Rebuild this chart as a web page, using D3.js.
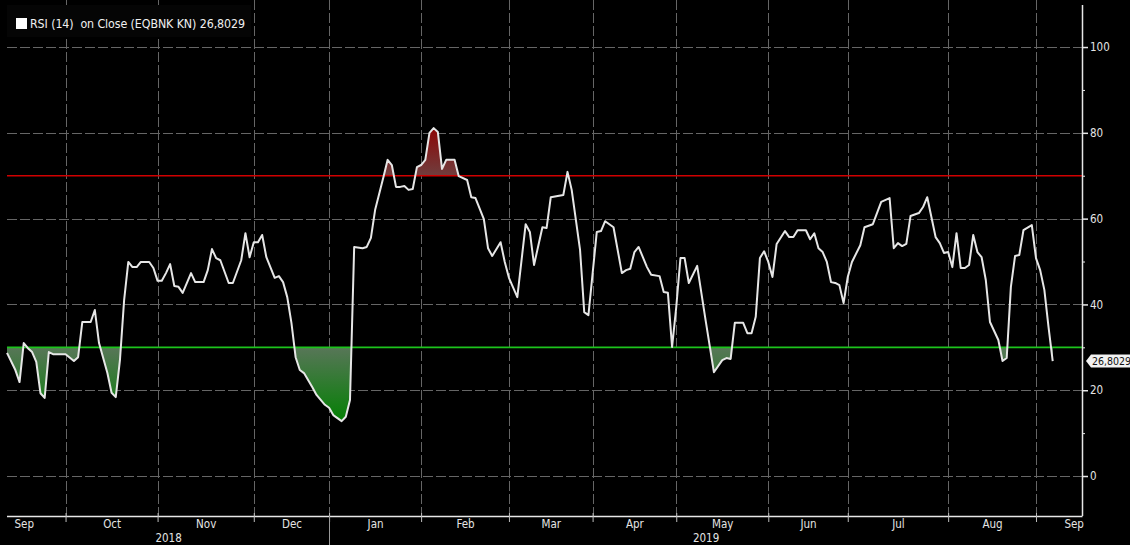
<!DOCTYPE html>
<html><head><meta charset="utf-8">
<script src="https://cdn.jsdelivr.net/npm/d3@7"></script>
<style>
html,body{margin:0;padding:0;background:#000;overflow:hidden}
svg{display:block}
text{font-family:"DejaVu Sans Condensed","Liberation Sans Narrow","DejaVu Sans",sans-serif;font-stretch:condensed}
</style></head><body>
<svg id="c" width="1130" height="545"></svg>
<script>
// trading-day index (0 = first session shown, mid Sep 2018) and RSI(14) value
const days = [0,2,3,4,5,6,7,8,9,10,11,14,16,17,18,20,21,22,24,25,26,27,28,29,30,31,32,34,35,36,37,38,39,40,41,42,44,45,47,48,49,50,51,53,54,56,57,58,59,60,61,62,64,65,66,67,68,69,70,71,73,74,76,77,78,80,81,82,83,85,86,87,88,90,91,92,93,94,95,96,97,98,99,100,101,102,103,104,105,107,108,110,111,112,114,115,116,118,119,120,122,124,125,126,128,129,130,133,134,135,137,138,139,141,142,143,145,147,148,149,150,151,153,154,156,157,158,159,160,161,162,163,165,167,169,171,172,173,174,176,177,178,179,180,181,182,183,184,186,187,188,189,191,192,193,194,195,196,197,198,199,200,201,202,204,205,207,209,211,212,213,214,215,216,218,219,220,222,223,224,225,226,227,228,229,230,231,232,233,234,235,237,238,239,240,241,242,243,245,246,247,248,249,250];
const rsi = [28.7,24.7,21.9,31.0,29.8,28.9,26.6,19.3,18.2,28.9,28.4,28.4,26.8,27.7,35.9,35.9,38.7,31.0,24.0,19.4,18.4,27.0,41.0,49.9,48.7,48.7,49.9,49.9,48.5,45.5,45.5,47.3,49.4,44.3,44.1,42.7,47.3,45.2,45.2,48.0,52.9,50.8,50.3,45.0,45.0,50.3,56.6,51.0,54.5,54.5,56.2,51.0,46.2,46.6,45.2,41.7,35.7,27.7,24.7,24.0,20.7,18.9,16.6,15.9,14.2,12.8,13.8,17.7,53.4,53.1,53.4,55.5,62.0,69.7,73.7,72.5,67.4,67.4,67.6,66.7,66.9,72.0,72.5,73.7,80.0,81.1,80.2,71.6,73.7,73.7,69.9,69.0,65.0,64.8,59.9,53.1,51.3,54.5,49.9,46.2,41.7,58.7,56.9,49.2,58.0,57.8,65.0,65.5,70.9,66.7,52.7,38.2,37.5,56.9,57.1,59.4,58.0,47.3,48.0,48.3,52.2,53.4,48.7,46.9,46.6,42.9,42.7,30.1,39.4,50.8,50.8,45.0,49.0,36.4,24.2,27.0,27.5,27.3,35.7,35.7,33.3,33.3,37.1,50.8,52.4,49.9,46.4,54.1,57.1,55.7,55.7,57.3,57.3,55.2,56.6,53.1,52.2,49.9,45.2,45.0,44.5,40.3,46.4,49.9,53.8,58.0,58.7,63.9,64.8,53.1,54.3,53.6,54.1,60.6,61.3,62.7,65.0,55.7,54.3,52.0,52.2,48.7,56.6,48.5,48.5,49.2,56.2,52.2,51.0,45.7,35.9,31.7,26.8,27.5,44.1,51.3,51.5,57.3,58.5,50.8,48.0,43.4,34.7,26.8029];
const monthBounds = [-6,14,36,59,77,99,120,140,160,182,201,225,246,264];
const monthLabels = ["Sep","Oct","Nov","Dec","Jan","Feb","Mar","Apr","May","Jun","Jul","Aug","Sep"];
const yearBounds = [0,77,257];
const yearLabels = ["2018","2019"];
const yTicks = [0,20,40,60,80,100];
const yMinor = [10,30,50,70,90];
const overbought = 70, oversold = 30;
const lastLabel = "26,8029";
const legendText = "RSI (14)  on Close (EQBNK KN) 26,8029";

const data = days.map((d,i)=>({day:d, v:rsi[i]}));
const svg = d3.select("#c");
const L=7, R=1082, T=5, B=516;
const x = d3.scaleLinear().domain([0,257]).range([L,R]);
const y = d3.scaleLinear().domain([-9.32,109.8]).range([B,T]);

const defs = svg.append("defs");
defs.append("clipPath").attr("id","below").append("rect")
  .attr("x",L).attr("width",R-L).attr("y",y(oversold)).attr("height",B-y(oversold));
defs.append("clipPath").attr("id","above").append("rect")
  .attr("x",L).attr("width",R-L).attr("y",T).attr("height",y(overbought)-T);
const gg = defs.append("linearGradient").attr("id","gGreen").attr("gradientUnits","userSpaceOnUse")
  .attr("x1",0).attr("x2",0).attr("y1",y(oversold)).attr("y2",y(12));
gg.append("stop").attr("offset",0).attr("stop-color","rgb(88,118,88)");
gg.append("stop").attr("offset",1).attr("stop-color","rgb(0,128,0)");
const gr = defs.append("linearGradient").attr("id","gRed").attr("gradientUnits","userSpaceOnUse")
  .attr("x1",0).attr("x2",0).attr("y1",y(overbought)).attr("y2",y(81));
gr.append("stop").attr("offset",0).attr("stop-color","rgb(112,62,62)");
gr.append("stop").attr("offset",1).attr("stop-color","rgb(140,8,8)");

// grid
const grid = svg.append("g").attr("stroke","#666").attr("stroke-width",1).attr("stroke-dasharray","10,3");
grid.selectAll(".h").data(yTicks).join("line")
  .attr("x1",L).attr("x2",R).attr("y1",d=>Math.round(y(d))+0.5).attr("y2",d=>Math.round(y(d))+0.5);
grid.selectAll(".v").data(monthBounds.slice(1,-1)).join("line")
  .attr("y1",0).attr("y2",B).attr("x1",d=>Math.round(x(d))+0.5).attr("x2",d=>Math.round(x(d))+0.5);

// fills
svg.append("path").datum(data).attr("clip-path","url(#below)").attr("fill","url(#gGreen)")
  .attr("d",d3.area().x(d=>x(d.day)).y0(y(oversold)).y1(d=>y(d.v)));
svg.append("path").datum(data).attr("clip-path","url(#above)").attr("fill","url(#gRed)")
  .attr("d",d3.area().x(d=>x(d.day)).y0(y(overbought)).y1(d=>y(d.v)));

// thresholds
svg.append("line").attr("x1",L).attr("x2",R).attr("y1",y(overbought)).attr("y2",y(overbought))
  .attr("stroke","#d00000").attr("stroke-width",1.6);
svg.append("line").attr("x1",L).attr("x2",R).attr("y1",y(oversold)).attr("y2",y(oversold))
  .attr("stroke","#1cc41c").attr("stroke-width",1.6);

// RSI line
svg.append("path").datum(data).attr("fill","none").attr("stroke","#e6e6e6").attr("stroke-width",2)
  .attr("stroke-linejoin","round").attr("d",d3.line().x(d=>x(d.day)).y(d=>y(d.v)));

// right axis
const ya = svg.append("g").attr("transform",`translate(${R},0)`)
  .call(d3.axisRight(y).tickValues(yTicks).tickSize(6).tickPadding(2).tickFormat(d3.format("d")));
ya.select(".domain").attr("stroke","#e8e8e8").attr("stroke-width",1.5).attr("d",`M0.5,${T}V${B}`);
ya.selectAll(".tick line").attr("stroke","#e8e8e8").attr("stroke-width",1.5);
ya.selectAll(".tick text").attr("fill","#e4e4e4").attr("font-size",11.5).attr("font-family",null);
const ym = svg.append("g").attr("transform",`translate(${R},0)`)
  .call(d3.axisRight(y).tickValues(yMinor).tickSize(3).tickFormat(""));
ym.select(".domain").remove();
ym.selectAll(".tick line").attr("stroke","#e8e8e8");

// bottom axis
const xa = svg.append("g").attr("transform",`translate(0,${B})`)
  .call(d3.axisBottom(x).tickValues(monthBounds.slice(1,-1)).tickSize(6).tickFormat(""));
xa.select(".domain").attr("stroke","#e8e8e8").attr("stroke-width",1.5).attr("d",`M${L},0.5H${R+0.5}`);
xa.selectAll(".tick line").attr("stroke","#bdbdbd").attr("y1",-3);
const centers = monthLabels.map((m,i)=>(monthBounds[i]+monthBounds[i+1])/2);
const xl = svg.append("g").attr("transform",`translate(0,${B})`)
  .call(d3.axisBottom(x).tickValues(centers).tickSize(0).tickPadding(4).tickFormat((d,i)=>monthLabels[i]));
xl.select(".domain").remove();
xl.selectAll(".tick text").attr("fill","#e4e4e4").attr("font-size",11.5).attr("font-family",null);
const ycent = yearLabels.map((m,i)=>(yearBounds[i]+yearBounds[i+1])/2);
const yl = svg.append("g").attr("transform",`translate(0,${B+14})`)
  .call(d3.axisBottom(x).tickValues(ycent).tickSize(0).tickPadding(4).tickFormat((d,i)=>yearLabels[i]));
yl.select(".domain").remove();
yl.selectAll(".tick text").attr("fill","#e4e4e4").attr("font-size",11.5).attr("font-family",null);
// year separator
svg.append("g").selectAll("line").data(yearBounds.slice(1,-1)).join("line")
  .attr("x1",d=>Math.round(x(d))+0.5).attr("x2",d=>Math.round(x(d))+0.5).attr("y1",B).attr("y2",545)
  .attr("stroke","#9a9a9a");

// last value tag
const last = data[data.length-1];
const ty = y(last.v);
svg.append("path").attr("d",`M${R+4},${ty} L${R+9},${ty-6.5} H1132 V${ty+6.5} H${R+9} Z`)
  .attr("fill","#f2f2f2");
svg.append("text").attr("x",R+10).attr("y",ty+3.8).attr("font-size",10.5).attr("fill","#111").text(lastLabel);

// legend
svg.append("rect").attr("x",L).attr("y",5).attr("width",244).attr("height",32).attr("fill","#050505");
svg.append("rect").attr("x",16).attr("y",18).attr("width",11).attr("height",11).attr("fill","#fff");
svg.append("text").attr("x",30).attr("y",28).attr("font-size",12.3).attr("fill","#f0f0f0")
  .attr("textLength",215).attr("lengthAdjust","spacing")
  .attr("xml:space","preserve").style("white-space","pre").text(legendText);
</script>
</body></html>
